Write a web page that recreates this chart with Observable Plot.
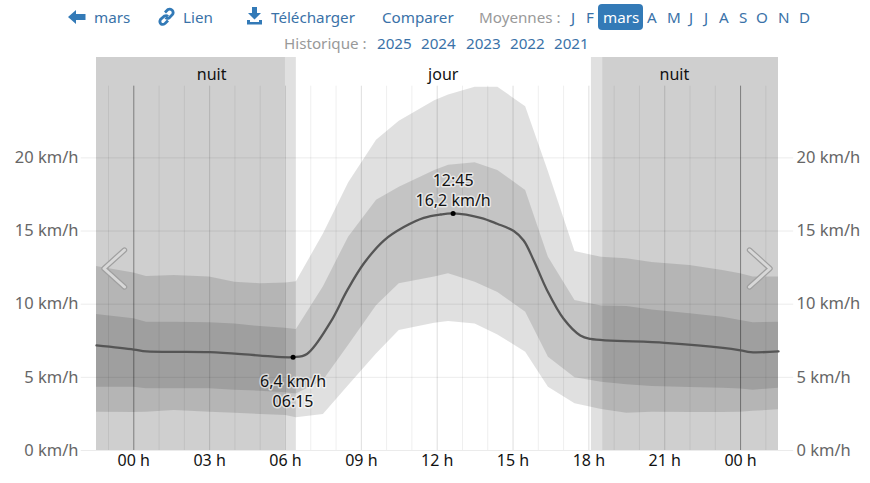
<!DOCTYPE html>
<html lang="fr"><head><meta charset="utf-8">
<script src="https://cdn.jsdelivr.net/npm/d3@7"></script>
<script src="https://cdn.jsdelivr.net/npm/@observablehq/plot@0.6"></script>
<style>
html,body{margin:0;padding:0;background:#fff;width:870px;height:483px;overflow:hidden;font-family:"Noto Sans",sans-serif}
#nav span{position:absolute;white-space:nowrap;font-size:15.2px;line-height:20px;color:#3a72a8}
#nav span.g{color:#999}
#nav span.on{color:#fff;z-index:1}
#pill{position:absolute;left:598px;top:4px;width:45px;height:26px;background:#337ab7;border-radius:4px}
#nav svg{position:absolute}
#chart{position:absolute;left:0;top:57px}
#chart svg{font-family:"Noto Sans",sans-serif;display:block}
.chev{position:absolute;pointer-events:none}
</style></head><body>
<div id="nav"></div>
<div id="chart"></div>
<svg class="chev" style="left:98px;top:244px" width="34" height="48"><polyline points="26.5,6 6,24.5 26.5,43" fill="none" stroke="#a0a0a0" stroke-width="5.4" stroke-linecap="round" stroke-linejoin="round"/><polyline points="26.5,6 6,24.5 26.5,43" fill="none" stroke="#d8d8d8" stroke-width="3" stroke-linecap="round" stroke-linejoin="round"/></svg>
<svg class="chev" style="left:742px;top:244px" width="34" height="48"><polyline points="7.5,6 28,24.5 7.5,43" fill="none" stroke="#a0a0a0" stroke-width="5.4" stroke-linecap="round" stroke-linejoin="round"/><polyline points="7.5,6 28,24.5 7.5,43" fill="none" stroke="#d8d8d8" stroke-width="3" stroke-linecap="round" stroke-linejoin="round"/></svg>
<script>
const bandHours = [-1.475,0,0.5,1.6,3,4,5,6,6.43,7.5,8.5,9.6,10.5,11.9,12.45,13.5,14.4,15.5,16.4,17.45,18.5,19.5,20.5,22,23.3,24,24.5,25.5];
const lightHigh = [12.58,12.14,11.9,11.96,11.85,11.5,11.4,11.44,11.53,14.8,18.3,21.2,22.5,23.9,24.3,24.83,24.83,23.5,19.05,13.6,13.2,13.1,12.85,12.64,12.3,12.08,11.85,11.85];
const midHigh   = [9.3,9.0,8.77,8.77,8.73,8.65,8.47,8.35,8.27,11.2,14.6,17.1,18.0,19.14,19.5,19.66,19.14,17.77,13.2,10.25,9.87,9.84,9.6,9.34,9.11,8.89,8.73,8.77];
const midLow    = [4.33,4.33,4.22,4.22,4.22,4.12,4.05,3.95,3.87,4.78,7.2,9.9,11.4,11.85,12.08,11.5,10.8,9.45,6.38,4.97,4.67,4.5,4.37,4.3,4.26,4.2,4.12,4.26];
const lightLow  = [2.62,2.6,2.62,2.73,2.62,2.55,2.46,2.39,2.23,2.46,4.44,6.6,8.2,8.7,8.82,8.65,7.9,6.72,4.33,3.2,2.8,2.55,2.62,2.6,2.6,2.62,2.68,2.78];

const lineHours = [-1.475,0,0.5,3,5,6.3,6.85,7.78,8.44,9.09,9.89,10.68,11.47,12.13,12.63,13.72,14.37,15.03,15.42,15.82,16.35,17.0,17.66,18.06,21,23.3,24,24.4,25.5];
const lineSpeed = [7.18,6.9,6.77,6.72,6.49,6.38,6.6,8.77,10.94,12.76,14.35,15.27,15.9,16.13,16.2,15.9,15.5,15.0,14.35,12.99,10.94,9.0,7.86,7.63,7.36,7.02,6.85,6.72,6.77];

const extremeHours = [6.3,12.63];
const extremeSpeed = [6.38,16.2];
const extremeTexts = ["6,4 km/h\n06:15","12:45\n16,2 km/h"];

const periodNames = ["nuit","jour","nuit"];
const periodHours = [3.08,12.24,21.38];

const dayEdgeStart = [-1.475,18.1];
const dayEdgeEnd   = [6.43,25.5];
const nightStart = [-1.475,18.55];
const nightEnd   = [6.0,25.5];

const hourTicks = d3.range(-1,26);
const threeHourTicks = [3,6,9,12,15,18,21];
const midnightTicks = [0,24];
const labelTicks = [0,3,6,9,12,15,18,21,24];
const speedTicks = [0,5,10,15,20];

const navItems = [
 ["mars",94,7,""],["Lien",183,7,""],["Télécharger",271,7,""],["Comparer",382,7,""],["Moyennes :",479,7,"g"],
 ["J",571,7,""],["F",586,7,""],["mars",603,7,"on"],["A",647,7,""],["M",667,7,""],["J",689,7,""],["J",704,7,""],["A",719,7,""],["S",739,7,""],["O",756,7,""],["N",778,7,""],["D",799,7,""],
 ["Historique :",284,33,"g"],["2025",377,33,""],["2024",421,33,""],["2023",466,33,""],["2022",510,33,""],["2021",554,33,""]
];
const nav = document.getElementById("nav");
nav.innerHTML = '<div id="pill"></div>' + navItems.map(([t,x,y,c])=>`<span class="${c}" style="left:${x}px;top:${y}px">${t}</span>`).join("") +
 `<svg style="left:68px;top:9px" width="20" height="16"><path d="M0 8 L8 1 L8 5 L17.5 5 L17.5 11 L8 11 L8 15 Z" fill="#337ab7"/></svg>
  <svg style="left:157px;top:7px" width="20" height="20" viewBox="0 0 20 20"><g fill="none" stroke="#337ab7" stroke-width="2.8"><path d="M8 5.5 L11 2.5 Q13 1.5 15 3 Q17 5 15.5 7.5 L12 11 Q10 12 8.5 10.5"/><path d="M11 9.5 Q9.5 8 7.5 9 L3.5 12.5 Q2 15 4 17 Q6 18 8 16.5 L11 13.5"/></g></svg>
  <svg style="left:246px;top:7px" width="18" height="18" viewBox="0 0 18 18"><path d="M6 0 H11 V6 H15 L8.5 12.5 L2 6 H6 Z M1 13 H4 V15 H13 V13 H16 V17.5 H1 Z" fill="#337ab7"/></svg>`;

const bands = bandHours.map((h,i)=>({h,lightHigh:lightHigh[i],midHigh:midHigh[i],midLow:midLow[i],lightLow:lightLow[i]}));
const line = lineHours.map((h,i)=>({h,v:lineSpeed[i]}));
const extremes = extremeHours.map((h,i)=>({h,v:extremeSpeed[i],t:extremeTexts[i]}));
const periods = periodNames.map((n,i)=>({n,h:periodHours[i]}));
const edges = dayEdgeStart.map((s,i)=>({s,e:dayEdgeEnd[i]}));
const nights = nightStart.map((s,i)=>({s,e:nightEnd[i]}));
const pad2 = d=>String(d%24).padStart(2,"0")+" h";
const shade = {fill:"#000",fillOpacity:0.12};

const plot = Plot.plot({
  width:870,height:426,marginLeft:96,marginRight:92,marginTop:0,marginBottom:33,
  x:{domain:[-1.475,25.5],label:null},
  y:{domain:[0,26.86],label:null},
  style:{fontSize:"16px",background:"transparent"},
  marks:[
    Plot.rect(edges,{x1:"s",x2:"e",...shade}),
    Plot.rect(nights,{x1:"s",x2:"e",fill:"#000",fillOpacity:0.075}),
    Plot.areaY(bands,{x:"h",y1:"lightLow",y2:"lightHigh",...shade}),
    Plot.areaY(bands,{x:"h",y1:"midLow",y2:"midHigh",...shade}),
    Plot.ruleY(speedTicks,{x1:-2.08,x2:26.1,stroke:"#000",strokeOpacity:0.08}),
    Plot.ruleX(hourTicks,{y1:0,y2:24.9,stroke:"#000",strokeOpacity:0.065}),
    Plot.ruleX(threeHourTicks,{y1:0,y2:24.9,stroke:"#000",strokeOpacity:0.07}),
    Plot.ruleX(midnightTicks,{y1:0,y2:24.9,stroke:"#000",strokeOpacity:0.35}),
    Plot.axisY({ticks:speedTicks,anchor:"left",tickSize:0,tickPadding:18,label:null,tickFormat:d=>`${d} km/h`,color:"#666",fontSize:16.5}),
    Plot.axisY({ticks:speedTicks,anchor:"right",tickSize:0,tickPadding:18,label:null,tickFormat:d=>`${d} km/h`,color:"#666",fontSize:16.5}),
    Plot.axisX({ticks:labelTicks,tickSize:0,tickPadding:4,label:null,tickFormat:pad2,color:"#111"}),
    Plot.text(periods,{x:"h",y:25.7,text:"n",fill:"#111",fontSize:16}),
    Plot.line(line,{x:"h",y:"v",stroke:"#555",strokeWidth:2.3,curve:"catmull-rom"}),
    Plot.dot(extremes,{x:"h",y:"v",r:2.5,fill:"#000",stroke:"none"}),
    Plot.text(extremes.slice(0,1),{x:"h",y:"v",text:"t",dy:33,fill:"#111",fontSize:16,lineHeight:1.25,stroke:"#fff",strokeOpacity:0.6,strokeWidth:3}),
    Plot.text(extremes.slice(1),{x:"h",y:"v",text:"t",dy:-24,fill:"#111",fontSize:16,lineHeight:1.25,stroke:"#fff",strokeOpacity:0.6,strokeWidth:3})
  ]
});
document.getElementById("chart").appendChild(plot);
</script>
</body></html>
